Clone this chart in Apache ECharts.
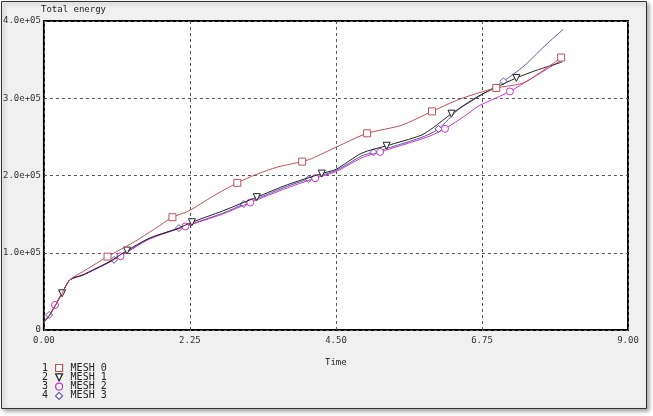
<!DOCTYPE html>
<html><head><meta charset="utf-8">
<script src="https://cdn.jsdelivr.net/npm/echarts@6/dist/echarts.min.js"></script>
<style>html,body{margin:0;padding:0;background:#fff;}#c{width:653px;height:416px;}</style>
</head><body><div id="c"></div>
<script>
// ---- data ----
const seriesNames = ['MESH 0', 'MESH 1', 'MESH 2', 'MESH 3'];
const xTicks = [0, 2.25, 4.5, 6.75, 9];
const yTicks = [0, 100000, 200000, 300000, 400000];

const mesh0Curve = [[0,10000],[0.09,19500],[0.18,32400],[0.28,47500],[0.40,65000],[0.6,75500],[1.37,113000],[1.72,131600],[2.23,154000],[2.6,173000],[3.26,201000],[3.6,211000],[4.13,222000],[4.51,237000],[5.51,265000],[6.38,298000],[6.70,307000],[7.39,320000],[7.76,340000]];
const mesh0Marks = [[0.98,95000],[1.98,146000],[2.98,190500],[3.98,218000],[4.98,254600],[5.98,283000],[6.97,313300],[7.97,352700]];

const mesh1Curve = [[0,10000],[0.09,19500],[0.18,32400],[0.40,65000],[0.6,71500],[1.0,88000],[1.62,118700],[2.05,131000],[2.75,154000],[3.75,188000],[4.5,208000],[4.9,229000],[5.81,252000],[6.0,262000],[6.7,303000],[6.97,314000],[7.60,336500],[7.99,347000]];
const mesh1Marks = [[0.28,47500],[1.28,102800],[2.28,139500],[3.28,172000],[4.28,202500],[5.28,238500],[6.28,280000],[7.28,326300]];

const mesh2Curve = [[0,10000],[0.09,19500],[0.28,47500],[0.40,65000],[0.6,71000],[1.0,88000],[1.62,117500],[2.75,150000],[3.75,184000],[4.5,205000],[4.9,223000],[5.81,247000],[6.0,253000],[6.5,278000],[6.7,290000],[7.5,325000],[7.99,350000]];
const mesh2Marks = [[0.17,32400],[1.18,95500],[2.18,134000],[3.18,165000],[4.18,196500],[5.18,230500],[6.18,260500],[7.18,308800]];

const mesh3Curve = [[0,10000],[0.18,32400],[0.28,47500],[0.40,65000],[0.6,71000],[1.62,118000],[2.75,151000],[3.75,186000],[4.5,206500],[4.9,225500],[5.81,249000],[6.38,285000],[6.7,302000],[7.4,342000],[7.72,368000],[8.0,389000]];
const mesh3Marks = [[0.08,19500],[1.08,90800],[2.08,131900],[3.08,163000],[4.08,195500],[5.08,230000],[6.08,260300],[7.08,322000]];

// ---- styling ----
const colors = ['#c44e58', '#222222', '#cc33cc', '#5a5aaa'];
const triDown = 'path://M0,0 L10,0 L5,10 Z';
const symbols = ['rect', triDown, 'circle', 'diamond'];
const curves = [mesh0Curve, mesh1Curve, mesh2Curve, mesh3Curve];
const marks = [mesh0Marks, mesh1Marks, mesh2Marks, mesh3Marks];
const font = '"DejaVu Sans Mono", monospace';

function build(i) {
  const pts = curves[i].map(p => ({value: p, symbol: 'none'}))
    .concat(marks[i].map(p => ({value: p, symbol: symbols[i]})));
  pts.sort((a, b) => a.value[0] - b.value[0]);
  return pts;
}

const series = seriesNames.map((n, i) => ({
  name: n, type: 'line', data: build(i), smooth: 0.25,
  showAllSymbol: true, symbolSize: 7, animation: false,
  lineStyle: {color: colors[i], width: 1},
  itemStyle: {color: '#fff', borderColor: colors[i], borderWidth: 1},
  emphasis: {disabled: true}, z: 3 + (3 - i)
}));

const legends = seriesNames.map((n, i) => ({
  orient: 'vertical', left: 55, top: 363 + i * 9.3, itemWidth: 7, itemHeight: 7,
  padding: 0, selectedMode: false,
  textStyle: {fontFamily: font, fontSize: 10, color: '#222', padding: [0, 0, 0, 3]},
  data: [{name: n, icon: symbols[i], itemStyle: {color: '#fff', borderColor: colors[i], borderWidth: 1.2}}]
}));

const chart = echarts.init(document.getElementById('c'), null, {renderer: 'canvas'});
chart.setOption({
  animation: false,
  backgroundColor: 'transparent',
  graphic: [
    {type: 'rect', z: -10, shape: {x: 1.5, y: 1.5, width: 645, height: 407},
     style: {fill: '#f0f0f0', stroke: '#333', lineWidth: 1, shadowBlur: 4, shadowOffsetX: 2, shadowOffsetY: 2, shadowColor: 'rgba(0,0,0,0.35)'}},
    {type: 'text', left: 41, top: 5, style: {text: 'Total energy', font: '9px ' + font, fill: '#222'}},
    {type: 'text', left: 325, top: 358, style: {text: 'Time', font: '9px ' + font, fill: '#222'}},
    ...[0, 1, 2, 3].map(k => ({type: 'text', left: 42, top: 363 + k * 9.3, style: {text: String(k + 1), font: '10px ' + font, fill: '#222'}}))
  ],
  grid: {left: 41, right: 25, top: 21, bottom: 86, show: true, backgroundColor: '#fff', borderColor: '#000', borderWidth: 2},
  legend: legends,
  xAxis: {
    type: 'value', min: 0, max: 9, interval: 2.25,
    axisLine: {show: false}, axisTick: {show: false},
    axisLabel: {fontFamily: font, fontSize: 9, color: '#333', margin: 6, formatter: v => v.toFixed(2)},
    splitLine: {show: true, lineStyle: {color: '#555', type: [3, 3], width: 1}}
  },
  yAxis: {
    type: 'value', min: 0, max: 400000, interval: 100000,
    axisLine: {show: false}, axisTick: {show: false},
    axisLabel: {fontFamily: font, fontSize: 9, color: '#333', margin: 3,
      formatter: v => v === 0 ? '0' : (v / 100000).toFixed(1) + 'e+05'},
    splitLine: {show: true, lineStyle: {color: '#555', type: [3, 3], width: 1}}
  },
  series: series
});
</script></body></html>
